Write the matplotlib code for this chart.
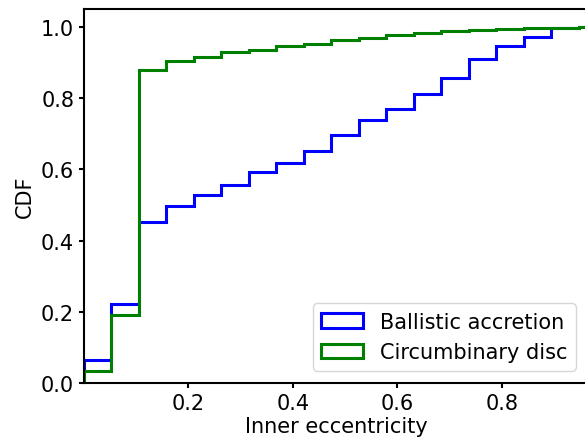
import numpy as np
import matplotlib
matplotlib.use("Agg")
import matplotlib.pyplot as plt
from matplotlib.patches import Patch

# bin edges of the eccentricity histograms (19 equal bins on [0, 1])
edges = np.linspace(0.0, 1.0, 20)

# cumulative fraction per bin
cdf_ballistic = [0.065, 0.222, 0.452, 0.497, 0.527, 0.557, 0.593, 0.619, 0.652,
                 0.697, 0.737, 0.770, 0.810, 0.857, 0.910, 0.945, 0.970, 0.996, 1.0]
cdf_circumbinary = [0.034, 0.190, 0.878, 0.904, 0.915, 0.928, 0.934, 0.946, 0.953,
                    0.962, 0.969, 0.978, 0.984, 0.988, 0.991, 0.994, 0.996, 0.998, 1.0]

labels = ["Ballistic accretion", "Circumbinary disc"]
colors = ["blue", "green"]

plt.rcParams["font.size"] = 15

fig = plt.figure(figsize=(5.85, 4.39), dpi=100)
# right edge of the axes sits just past the canvas
ax = fig.add_axes([84 / 585, 55 / 439, 504 / 585, 374 / 439])

for cdf, c in zip([cdf_ballistic, cdf_circumbinary], colors):
    ax.stairs(cdf, edges, baseline=0, fill=False, color=c, lw=2.2)

ax.set_xlim(0.0, 0.965)
ax.set_ylim(0.0, 1.05)
ax.set_xticks([0.2, 0.4, 0.6, 0.8])
ax.set_yticks([0.0, 0.2, 0.4, 0.6, 0.8, 1.0])
ax.set_xlabel("Inner eccentricity", labelpad=2)
ax.set_ylabel("CDF")

for sp in ax.spines.values():
    sp.set_linewidth(1.5)
ax.tick_params(width=1.5, length=3.6)

handles = [Patch(facecolor="none", edgecolor=c, lw=2.2) for c in colors]
ax.legend(handles, labels, loc="lower right", borderaxespad=0.6)

fig.savefig("out.png", dpi=100)
